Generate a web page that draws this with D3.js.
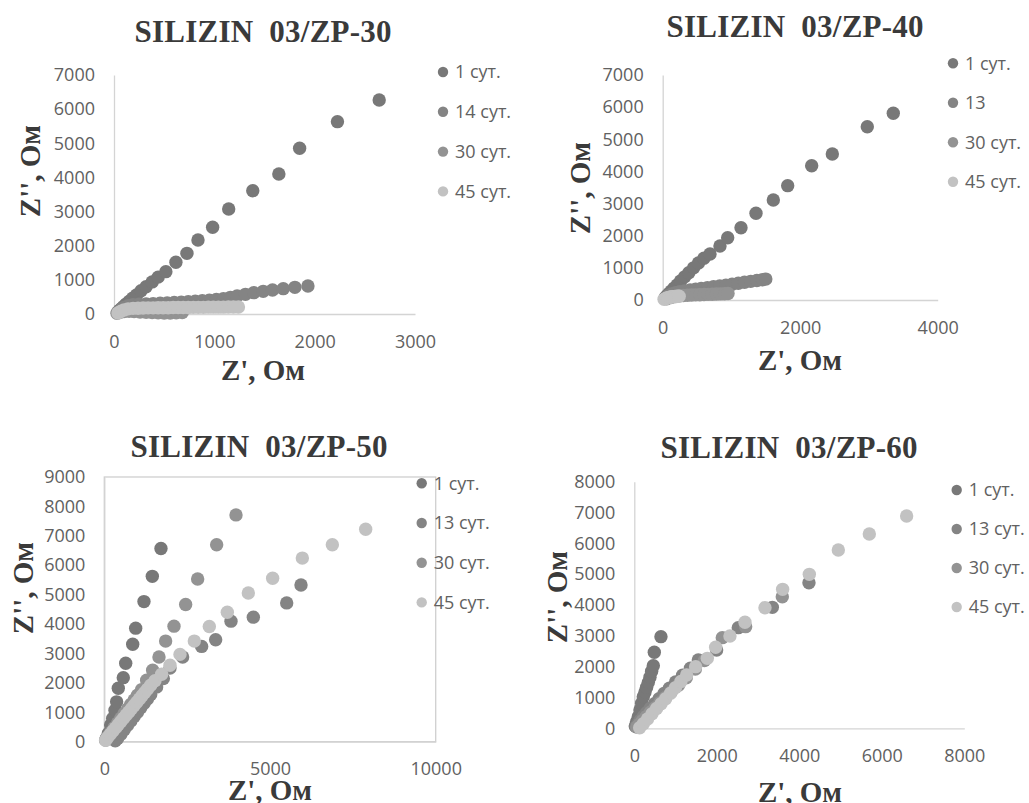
<!DOCTYPE html>
<html>
<head>
<meta charset="utf-8">
<script src="https://cdn.jsdelivr.net/npm/d3@7"></script>
<style>
  body { margin: 0; background: #fff; }
  svg { display: block; }
  .tick text { font-family: "Open Sans", sans-serif; font-size: 18px; fill: #616161; }
  .legend text { font-family: "Open Sans", sans-serif; font-size: 18px; fill: #616161; }
  .title, .axis-title { font-family: "Liberation Serif", "Times New Roman", serif; font-weight: bold; fill: #3a3a3a; white-space: pre; }
</style>
</head>
<body>
<div id="chart"></div>
<script>
// ---- data (Z', Z'' in Ом) ----
const zp30Day1 = [[35,40],[45,75],[58,115],[75,165],[95,220],[120,290],[150,370],[185,460],[225,560],[270,680],[320,800],[380,940],[440,1080],[517,1240],[617,1514],[727,1777],[837,2167],[983,2539],[1143,3075],[1383,3612],[1643,4100],[1850,4853],[2227,5633],[2643,6268]];
const zp30Day14 = [[40,60],[70,130],[100,190],[140,240],[190,270],[250,285],[320,295],[390,305],[460,315],[530,325],[600,335],[670,345],[740,360],[810,375],[880,390],[950,405],[1020,425],[1090,450],[1160,488],[1227,527],[1310,576],[1393,625],[1487,664],[1580,703],[1687,742],[1803,781],[1933,820]];
const zp30Day30 = [[30,20],[60,50],[100,70],[150,80],[200,70],[260,60],[320,50],[380,40],[440,35],[500,30],[560,30],[620,35],[680,40]];
const zp30Day45 = [[40,30],[70,80],[100,120],[140,150],[190,165],[240,170],[290,175],[340,180],[390,180],[440,185],[490,185],[540,185],[590,190],[640,190],[690,190],[740,190],[790,195],[840,195],[890,195],[940,200],[990,200],[1040,200],[1090,200],[1140,205],[1190,205],[1240,205]];

const zp40Day1 = [[35,70],[60,130],[90,200],[125,280],[165,370],[210,470],[260,590],[320,720],[380,850],[450,1000],[520,1150],[600,1300],[688,1431],[833,1680],[945,1939],[1139,2250],[1357,2697],[1609,3111],[1818,3557],[2167,4178],[2467,4542],[2976,5392],[3354,5808]];
const zp40Day13 = [[40,60],[80,130],[130,190],[190,230],[250,260],[320,285],[400,310],[480,335],[560,360],[650,385],[740,410],[830,435],[920,460],[1010,490],[1100,520],[1190,550],[1280,580],[1370,605],[1450,630],[1500,650]];
const zp40Day30 = [[60,40],[120,80],[180,110],[240,130],[300,140],[360,150],[420,155],[480,160],[540,165],[600,170],[660,175],[720,180],[780,185],[840,190],[900,195],[950,200]];
const zp40Day45 = [[20,20],[40,40],[60,60],[80,75],[100,85],[120,95],[140,100],[160,105],[180,110],[200,110],[220,115],[240,120]];

const zp50Day1 = [[40,60],[70,113],[121,282],[191,565],[252,790],[323,1073],[372,1355],[422,1817],[573,2178],[646,2668],[857,3315],[947,3860],[1197,4764],[1449,5622],[1710,6570]];
const zp50Day13 = [[330,30],[400,105],[500,255],[600,405],[700,555],[800,705],[900,855],[1000,1005],[1100,1155],[1200,1305],[1300,1455],[1400,1605],[1579,1863],[1781,2145],[1982,2506],[2364,2879],[2937,3240],[3360,3466],[3823,4098],[4497,4234],[5503,4719],[5935,5329]];
const zp50Day30 = [[60,90],[120,190],[200,320],[300,480],[400,640],[500,800],[600,960],[700,1110],[800,1270],[900,1420],[1000,1580],[1127,1772],[1278,2089],[1459,2427],[1650,2879],[1851,3421],[2103,3929],[2455,4663],[2817,5532],[3390,6695],[3974,7711]];
const zp50Day45 = [[40,50],[100,140],[180,250],[260,360],[340,470],[420,580],[500,690],[580,800],[660,910],[740,1010],[820,1120],[900,1230],[980,1340],[1060,1450],[1140,1560],[1220,1670],[1300,1780],[1400,1920],[1530,2070],[1730,2292],[1982,2597],[2284,2969],[2716,3421],[3169,3918],[3712,4403],[4346,5058],[5080,5555],[5976,6243],[6881,6695],[7887,7226]];

const zp60Day1 = [[24,76],[57,216],[97,378],[137,595],[178,811],[218,1027],[260,1180],[299,1330],[340,1490],[380,1654],[420,1850],[461,2032],[485,2465],[646,2973]];
const zp60Day13 = [[40,60],[90,150],[150,260],[220,380],[300,510],[390,650],[490,800],[600,960],[720,1130],[850,1300],[1000,1500],[1170,1720],[1360,1950],[1552,2216],[1996,2540],[2521,3265],[3346,3924],[4234,4724]];
const zp60Day30 = [[60,40],[120,130],[200,250],[290,380],[390,520],[500,670],[620,830],[750,1000],[900,1190],[1070,1400],[1260,1640],[1480,1920],[1700,2200],[2133,2940],[2699,3297],[3588,4270]];
const zp60Day45 = [[130,20],[220,150],[320,300],[430,470],[540,640],[650,800],[760,960],[880,1140],[1000,1320],[1130,1520],[1269,1730],[1487,2000],[1770,2270],[1972,2627],[2319,2994],[2683,3438],[3168,3913],[3596,4508],[4243,4994],[4946,5783],[5697,6302],[6602,6886]];

const titles = ["SILIZIN  03/ZP-30", "SILIZIN  03/ZP-40", "SILIZIN  03/ZP-50", "SILIZIN  03/ZP-60"];
const legend30 = ["1 сут.", "14 сут.", "30 сут.", "45 сут."];
const legend40 = ["1 сут.", "13", "30 сут.", "45 сут."];
const legend50 = ["1 сут.", "13 сут.", "30 сут.", "45 сут."];
const legend60 = ["1 сут.", "13 сут.", "30 сут.", "45 сут."];
const xTicks30 = [0, 1000, 2000, 3000], yTicks30 = [0, 1000, 2000, 3000, 4000, 5000, 6000, 7000];
const xTicks40 = [0, 2000, 4000],       yTicks40 = [0, 1000, 2000, 3000, 4000, 5000, 6000, 7000];
const xTicks50 = [0, 5000, 10000],      yTicks50 = [0, 1000, 2000, 3000, 4000, 5000, 6000, 7000, 8000, 9000];
const xTicks60 = [0, 2000, 4000, 6000, 8000], yTicks60 = [0, 1000, 2000, 3000, 4000, 5000, 6000, 7000, 8000];
const xLabel = "Z', Ом", yLabel = "Z'', Ом";

const seriesColors = ["#787878", "#848484", "#939393", "#c2c2c2"];

// layout of the four panels (pixels)
const panels = [
  { title: titles[0], series: [zp30Day1, zp30Day14, zp30Day30, zp30Day45], legend: legend30,
    xTicks: xTicks30, yTicks: yTicks30, xr: [114, 415], yr: [314, 75],
    titleAt: [263, 42], xTitleAt: [263, 380], yTitleAt: [40, 171],
    legendAt: [443, 72, 39.8], frame: false },
  { title: titles[1], series: [zp40Day1, zp40Day13, zp40Day30, zp40Day45], legend: legend40,
    xTicks: xTicks40, yTicks: yTicks40, xr: [662.7, 937.7], yr: [300, 75],
    titleAt: [795, 37], xTitleAt: [800, 370], yTitleAt: [590, 188],
    legendAt: [953, 63.3, 39.5], frame: false },
  { title: titles[2], series: [zp50Day1, zp50Day13, zp50Day30, zp50Day45], legend: legend50,
    xTicks: xTicks50, yTicks: yTicks50, xr: [104.3, 435.7], yr: [741.7, 477],
    titleAt: [259, 457], xTitleAt: [270, 800], yTitleAt: [33, 588],
    legendAt: [421.7, 483.3, 39.7], frame: true },
  { title: titles[3], series: [zp60Day1, zp60Day13, zp60Day30, zp60Day45], legend: legend60,
    xTicks: xTicks60, yTicks: yTicks60, xr: [634.3, 964.3], yr: [728.3, 481.7],
    titleAt: [789, 458], xTitleAt: [800, 802], yTitleAt: [567, 597],
    legendAt: [956.7, 490, 39], frame: false }
];

const svg = d3.select("#chart").append("svg")
  .attr("width", 1029)
  .attr("height", 803);

panels.forEach(p => {
  let xMax = p.xTicks[p.xTicks.length - 1];
  let yMax = p.yTicks[p.yTicks.length - 1];
  let x = d3.scaleLinear().domain([0, xMax]).range(p.xr);
  let y = d3.scaleLinear().domain([0, yMax]).range(p.yr);
  let g = svg.append("g");

  if (p.frame) {
    g.append("rect")
      .attr("x", p.xr[0]).attr("y", p.yr[1])
      .attr("width", p.xr[1] - p.xr[0]).attr("height", p.yr[0] - p.yr[1])
      .attr("fill", "none").attr("stroke", "#cfcfcf").attr("stroke-width", 1.3);
  }

  // axes
  let xAxis = g.append("g")
    .attr("transform", `translate(0,${p.yr[0]})`)
    .call(d3.axisBottom(x).tickValues(p.xTicks).tickFormat(d3.format("d")).tickSize(0).tickPadding(21));
  let yAxis = g.append("g")
    .attr("transform", `translate(${p.xr[0]},0)`)
    .call(d3.axisLeft(y).tickValues(p.yTicks).tickFormat(d3.format("d")).tickSize(0).tickPadding(19));
  [xAxis, yAxis].forEach(a => a.select(".domain").attr("stroke", "#d4d4d4").attr("stroke-width", 1.3));

  // points, later series drawn on top
  p.series.forEach((s, i) => {
    g.append("g").selectAll("circle")
      .data(s)
      .join("circle")
      .attr("cx", d => x(d[0]))
      .attr("cy", d => y(d[1]))
      .attr("r", 6.7)
      .attr("fill", seriesColors[i]);
  });

  // titles
  g.append("text").attr("class", "title")
    .attr("x", p.titleAt[0]).attr("y", p.titleAt[1])
    .attr("text-anchor", "middle").attr("font-size", 31)
    .attr("textLength", 257)
    .text(p.title);
  g.append("text").attr("class", "axis-title")
    .attr("x", p.xTitleAt[0]).attr("y", p.xTitleAt[1])
    .attr("text-anchor", "middle").attr("font-size", 29)
    .text(xLabel);
  g.append("text").attr("class", "axis-title")
    .attr("transform", `translate(${p.yTitleAt[0]},${p.yTitleAt[1]}) rotate(-90)`)
    .attr("text-anchor", "middle").attr("font-size", 29)
    .text(yLabel);

  // legend
  let lg = g.append("g").attr("class", "legend");
  let item = lg.selectAll("g")
    .data(p.legend)
    .join("g")
    .attr("transform", (d, i) => `translate(${p.legendAt[0]},${p.legendAt[1] + i * p.legendAt[2]})`);
  item.append("circle").attr("r", 5.2).attr("fill", (d, i) => seriesColors[i]);
  item.append("text").attr("x", 12).attr("dy", "0.35em").text(d => d);
});
</script>
</body>
</html>
